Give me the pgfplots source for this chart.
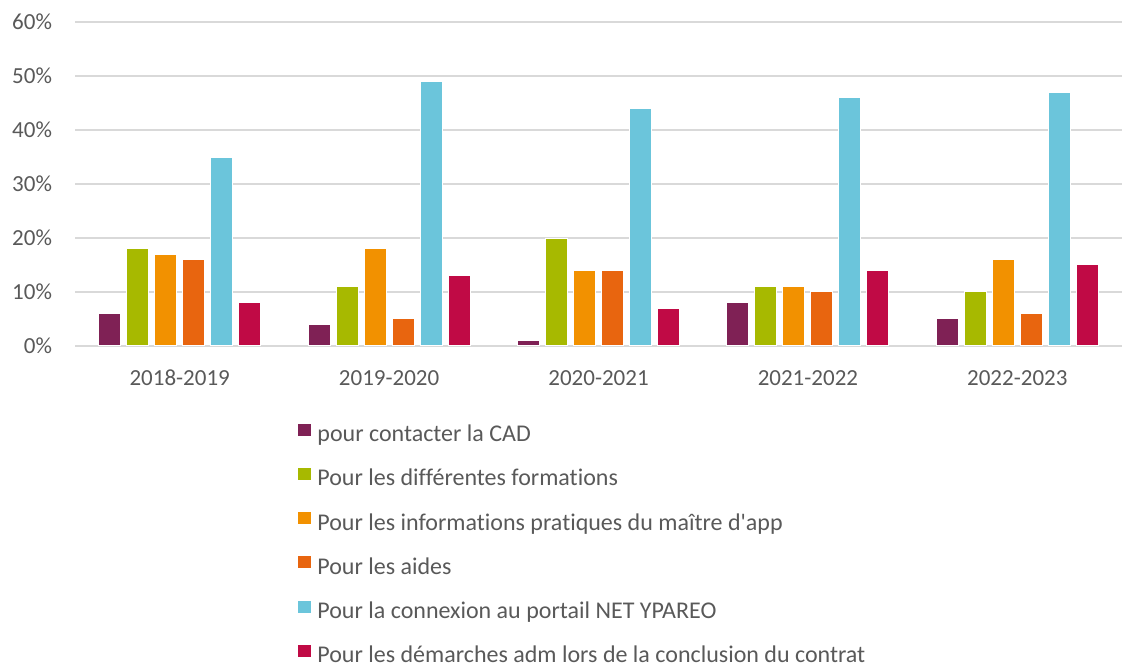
\documentclass[border=0pt]{standalone}
\usepackage{fontspec}
\setmainfont{Carlito}[Ligatures={TeXOff,CommonOff}]
\usepackage{pgfplots}
\pgfplotsset{compat=1.18}

\definecolor{cPurple}{HTML}{7F2155}
\definecolor{cGreen}{HTML}{A7B900}
\definecolor{cOrange}{HTML}{F29100}
\definecolor{cDarkOrange}{HTML}{E8650F}
\definecolor{cBlue}{HTML}{6BC5DB}
\definecolor{cCrimson}{HTML}{C00A45}
\definecolor{gridgray}{HTML}{D9D9D9}
\definecolor{txtgray}{HTML}{595959}

\begin{document}
\begin{tikzpicture}
\begin{axis}[
  scale only axis, width=523.5pt, height=162pt,
  ybar=3pt, bar width=11pt,
  xmin=-0.5, xmax=4.5, ymin=0, ymax=60,
  xtick={0,1,2,3,4},
  xticklabels={2018-2019,2019-2020,2020-2021,2021-2022,2022-2023},
  ytick={0,10,20,30,40,50,60},
  yticklabels={0\%,10\%,20\%,30\%,40\%,50\%,60\%},
  axis line style={draw=none}, major tick length=0pt,
  ymajorgrids, grid style={line width=0.75pt, color=gridgray},
  tick label style={font=\fontsize{11.5}{13}\selectfont, text=txtgray},
  yticklabel style={anchor=east, inner sep=0pt, xshift=-11.3pt},
  xticklabel style={anchor=base, inner sep=0pt, yshift=-20pt},
  every axis plot/.append style={draw=white, line width=0.5pt,
    legend image code/.code={\fill[#1,draw=none] (0pt,0pt) rectangle (6.5pt,6pt);}},
  legend style={font=\fontsize{12}{14}\selectfont, text=txtgray,
    draw=none, fill=none, inner sep=0pt, row sep=10.6pt, column sep=3pt,
    nodes={text height=8.5pt, text depth=2.6pt, inner sep=0pt},
    at={(axis description cs:0.213,-0.238)}, anchor=north west},
  legend cell align=left,
]
\addplot[fill=cPurple] coordinates {(0,6) (1,4) (2,1) (3,8) (4,5)};
\addplot[fill=cGreen] coordinates {(0,18) (1,11) (2,20) (3,11) (4,10)};
\addplot[fill=cOrange] coordinates {(0,17) (1,18) (2,14) (3,11) (4,16)};
\addplot[fill=cDarkOrange] coordinates {(0,16) (1,5) (2,14) (3,10) (4,6)};
\addplot[fill=cBlue] coordinates {(0,35) (1,49) (2,44) (3,46) (4,47)};
\addplot[fill=cCrimson] coordinates {(0,8) (1,13) (2,7) (3,14) (4,15)};
\legend{pour contacter la CAD,
  Pour les différentes formations,
  Pour les informations pratiques du maître d'app,
  Pour les aides,
  Pour la connexion au portail NET YPAREO,
  Pour les démarches adm lors de la conclusion du contrat}
\coordinate (bl) at (rel axis cs:0,0);
\coordinate (tr) at (rel axis cs:1,1);
\end{axis}
\pgfresetboundingbox
\path ([xshift=-37.5pt,yshift=-160.5pt]bl) rectangle ([xshift=0.5pt,yshift=11pt]tr);
\end{tikzpicture}
\end{document}
